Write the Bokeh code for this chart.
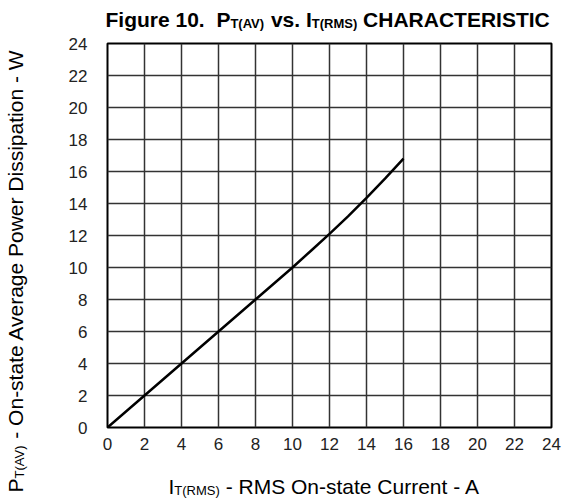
import math
from bokeh.plotting import figure
from bokeh.layouts import row, column
from bokeh.models import Range1d, FixedTicker, Label
from bokeh.embed import file_html
from bokeh.resources import INLINE

# ---- data ----
current_a = [0, 2, 4, 6, 8, 10, 11, 12, 13, 14, 15, 16]
power_w = [0, 2.0, 4.0, 6.0, 8.0, 10.0, 11.05, 12.1, 13.2, 14.35, 15.55, 16.8]
tick_values = list(range(0, 25, 2))

FONT = "Liberation Sans"

# page geometry (px)
LEFT_W = 40          # width of the y-label strip
TOTAL_W = 565
TITLE_H = 34
MAIN_H = 436
XLAB_H = 30
TOTAL_H = TITLE_H + MAIN_H + XLAB_H
FL, FR, FT, FB = 107, 551, 43, 427   # plot frame in page coords
RIGHT_W = TOTAL_W - LEFT_W
BASE_FIX_H = -6      # empirical baseline correction, horizontal text
BASE_FIX_V = -11     # empirical baseline correction, rotated text


def no_align(f):
    try:
        f.frame_align = False
    except Exception:
        pass


def text_fig(x0, y0, w, h):
    f = figure(width=w, height=h, output_backend="svg", toolbar_location=None,
               x_range=Range1d(x0, x0 + w), y_range=Range1d(y0 + h, y0),
               x_axis_location=None, y_axis_location=None,
               min_border=0, min_border_left=0, min_border_right=0,
               min_border_top=0, min_border_bottom=0)
    f.xgrid.visible = False
    f.ygrid.visible = False
    f.outline_line_color = None
    f.background_fill_color = "white"
    f.border_fill_color = "white"
    no_align(f)
    return f


# ---- main plot ----
p = figure(width=RIGHT_W, height=MAIN_H, output_backend="svg", toolbar_location=None,
           x_range=Range1d(0, 24), y_range=Range1d(0, 24),
           min_border_left=FL - LEFT_W, min_border_right=TOTAL_W - FR,
           min_border_top=FT - TITLE_H, min_border_bottom=TITLE_H + MAIN_H - FB)
no_align(p)
p.background_fill_color = "white"
p.border_fill_color = "white"
p.outline_line_color = "black"
p.outline_line_width = 2

for ax in (p.xaxis, p.yaxis):
    ax.ticker = FixedTicker(ticks=tick_values)
    ax.major_tick_line_color = None
    ax.minor_tick_line_color = None
    ax.axis_line_color = None
    ax.major_label_text_font = FONT
    ax.major_label_text_font_size = "17px"
    ax.major_label_text_color = "#222222"
p.xaxis.major_label_standoff = 4
p.yaxis.major_label_standoff = 14

for g in (p.xgrid, p.ygrid):
    g.ticker = FixedTicker(ticks=tick_values)
    g.grid_line_color = "#333333"
    g.grid_line_width = 1.5

p.line(current_a, power_w, line_color="black", line_width=2.5)

# ---- text with subscripts ----
REG = {' ': 278, '-': 333, '(': 333, ')': 333, '.': 278, 'A': 667, 'C': 722, 'D': 722,
       'I': 278, 'M': 833, 'O': 778, 'P': 667, 'R': 722, 'S': 667, 'T': 611, 'V': 667,
       'W': 944, 'a': 556, 'e': 556, 'g': 556, 'i': 222, 'n': 556, 'o': 556, 'p': 556,
       'r': 333, 's': 500, 't': 278, 'u': 556, 'v': 500, 'w': 722}
BOLD = {' ': 278, '.': 278, '(': 333, ')': 333, '0': 556, '1': 556, 'A': 722, 'C': 722,
        'E': 667, 'F': 611, 'H': 722, 'I': 278, 'M': 833, 'P': 667, 'R': 722, 'S': 667,
        'T': 611, 'V': 667, 'e': 556, 'g': 611, 'i': 278, 'r': 389, 's': 556, 'u': 611,
        'v': 556}


def width(txt, size, bold):
    tab = BOLD if bold else REG
    return sum(tab.get(c, 556) for c in txt) * size / 1000.0


def run(fig, pieces, x0, base, size, sub_size, bold, vertical=False):
    """pieces: list of (text, is_sub); x0/base in page coords.
    Leading/trailing spaces are turned into position advances."""
    pos = 0.0
    for txt, is_sub in pieces:
        fs = sub_size if is_sub else size
        shift = 4 if is_sub else 0
        lead = len(txt) - len(txt.lstrip(" "))
        trail = len(txt) - len(txt.rstrip(" "))
        core = txt.strip(" ")
        pos += width(" " * lead, fs, bold)
        if vertical:
            lx, ly, ang = base + shift + BASE_FIX_V, x0 - pos, math.pi / 2
        else:
            lx, ly, ang = x0 + pos, base + shift + BASE_FIX_H, 0
        fig.add_layout(Label(x=lx, y=ly, text=core, angle=ang, text_font=FONT,
                             text_font_size=f"{fs}px",
                             text_font_style="bold" if bold else "normal",
                             text_color="black", text_align="left",
                             text_baseline="alphabetic"))
        pos += width(core, fs, bold) + width(" " * trail, fs, bold)


title_fig = text_fig(LEFT_W, 0, RIGHT_W, TITLE_H)
run(title_fig, [("Figure 10.  ", False), ("P", False), ("T(AV)", True), (" vs. ", False),
                ("I", False), ("T(RMS)", True), (" CHARACTERISTIC", False)],
    105, 25, 21, 13, True)

xlab_fig = text_fig(LEFT_W, TITLE_H + MAIN_H, RIGHT_W, XLAB_H)
run(xlab_fig, [("I", False), ("T(RMS)", True), (" - RMS On-state Current - A", False)],
    168, 492, 21, 13, False)

ylab_fig = text_fig(0, 0, LEFT_W, TOTAL_H)
run(ylab_fig, [("P", False), ("T(AV)", True),
               (" - On-state Average Power Dissipation - W", False)],
    492, 26, 21, 13, False, vertical=True)

layout = row(ylab_fig, column(title_fig, p, xlab_fig, spacing=0), spacing=0)

open("out.html", "w").write(file_html(layout, INLINE))
